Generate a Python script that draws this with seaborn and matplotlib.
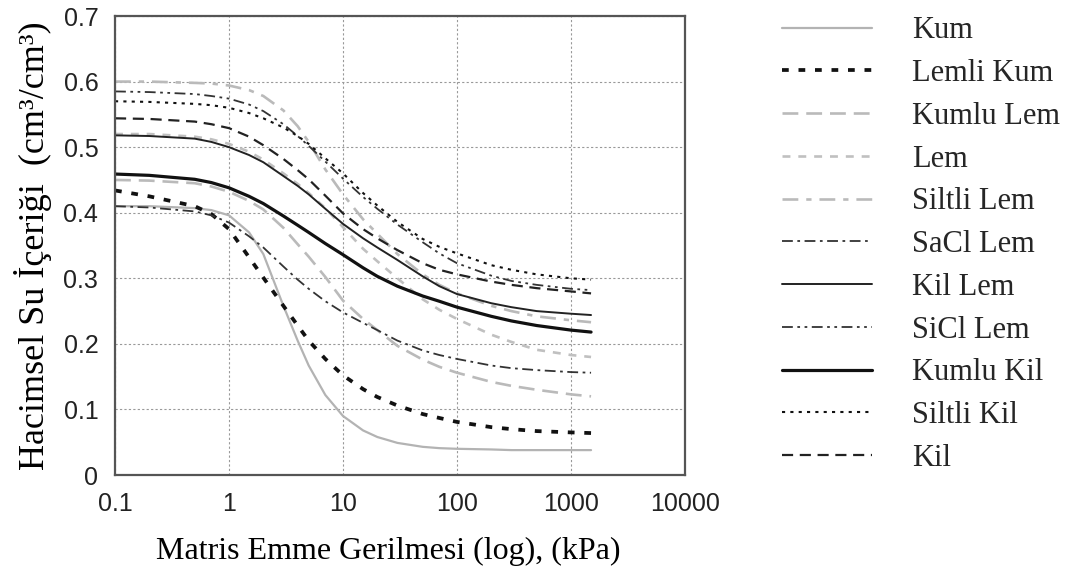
import matplotlib
matplotlib.use("Agg")
import matplotlib.pyplot as plt
import seaborn as sns
import pandas as pd

# suction values (kPa), shared by every curve
suction = [0.1, 0.2, 0.5, 0.7, 1, 1.5, 2, 3, 4, 5, 7, 10, 15, 20, 30, 50, 70, 100, 200, 300, 500, 1000, 1500]

kum = [0.41, 0.41, 0.407, 0.404, 0.396, 0.37, 0.337, 0.258, 0.205, 0.167, 0.122, 0.09, 0.068, 0.058, 0.049, 0.043, 0.041, 0.040, 0.039, 0.038, 0.038, 0.038, 0.038]
lemli_kum = [0.434, 0.425, 0.41, 0.398, 0.375, 0.332, 0.301, 0.258, 0.228, 0.205, 0.177, 0.152, 0.131, 0.119, 0.106, 0.093, 0.087, 0.081, 0.073, 0.07, 0.067, 0.065, 0.064]
kumlu_lem = [0.45, 0.449, 0.445, 0.44, 0.432, 0.418, 0.405, 0.377, 0.352, 0.333, 0.302, 0.266, 0.238, 0.221, 0.197, 0.176, 0.165, 0.156, 0.142, 0.136, 0.13, 0.123, 0.12]
lem = [0.52, 0.52, 0.516, 0.512, 0.505, 0.493, 0.481, 0.46, 0.444, 0.43, 0.407, 0.378, 0.345, 0.326, 0.30, 0.268, 0.252, 0.238, 0.214, 0.203, 0.191, 0.183, 0.18]
siltli_lem = [0.60, 0.60, 0.598, 0.597, 0.594, 0.587, 0.578, 0.556, 0.532, 0.508, 0.466, 0.428, 0.39, 0.368, 0.337, 0.306, 0.29, 0.277, 0.258, 0.25, 0.242, 0.236, 0.233]
sacl_lem = [0.41, 0.408, 0.402, 0.396, 0.385, 0.364, 0.347, 0.318, 0.298, 0.284, 0.265, 0.248, 0.232, 0.221, 0.205, 0.19, 0.183, 0.177, 0.167, 0.163, 0.16, 0.157, 0.156]
kil_lem = [0.518, 0.517, 0.513, 0.508, 0.50, 0.488, 0.477, 0.456, 0.441, 0.428, 0.406, 0.383, 0.361, 0.347, 0.328, 0.303, 0.288, 0.276, 0.262, 0.256, 0.25, 0.246, 0.244]
sicl_lem = [0.585, 0.584, 0.581, 0.578, 0.574, 0.565, 0.555, 0.535, 0.517, 0.502, 0.478, 0.452, 0.424, 0.406, 0.382, 0.355, 0.338, 0.323, 0.304, 0.296, 0.29, 0.284, 0.282]
kumlu_kil = [0.459, 0.457, 0.451, 0.446, 0.438, 0.425, 0.414, 0.395, 0.381, 0.37, 0.353, 0.336, 0.316, 0.303, 0.288, 0.273, 0.265, 0.256, 0.242, 0.235, 0.228, 0.221, 0.218]
siltli_kil = [0.57, 0.569, 0.566, 0.564, 0.56, 0.552, 0.544, 0.53, 0.517, 0.505, 0.483, 0.46, 0.43, 0.411, 0.386, 0.36, 0.348, 0.338, 0.32, 0.313, 0.306, 0.30, 0.298]
kil = [0.544, 0.543, 0.539, 0.535, 0.529, 0.516, 0.503, 0.482, 0.465, 0.451, 0.426, 0.399, 0.375, 0.361, 0.343, 0.323, 0.313, 0.306, 0.295, 0.29, 0.285, 0.28, 0.277]

soil_names = ["Kum", "Lemli Kum", "Kumlu Lem", "Lem", "Siltli Lem", "SaCl Lem",
              "Kil Lem", "SiCl Lem", "Kumlu Kil", "Siltli Kil", "Kil"]
soil_values = [kum, lemli_kum, kumlu_lem, lem, siltli_lem, sacl_lem,
               kil_lem, sicl_lem, kumlu_kil, siltli_kil, kil]

x_ticks = [0.1, 1, 10, 100, 1000, 10000]
x_ticklabels = ["0.1", "1", "10", "100", "1000", "10000"]
y_ticks = [0, 0.1, 0.2, 0.3, 0.4, 0.5, 0.6, 0.7]
y_ticklabels = ["0", "0.1", "0.2", "0.3", "0.4", "0.5", "0.6", "0.7"]

# line styles per soil: colour, width, dash pattern
styles = {
    "Kum":        ("#b3b3b3", 1.6, "-"),
    "Lemli Kum":  ("#111111", 2.7, (0, (1.8, 2.6))),
    "Kumlu Lem":  ("#bababa", 1.9, (0, (6, 3))),
    "Lem":        ("#c0c0c0", 1.9, (0, (3, 3))),
    "Siltli Lem": ("#bababa", 1.9, (0, (6, 3, 2, 3))),
    "SaCl Lem":   ("#333333", 1.3, (0, (6, 2.5, 1.5, 2.5))),
    "Kil Lem":    ("#222222", 1.4, "-"),
    "SiCl Lem":   ("#333333", 1.3, (0, (6, 2.5, 1.5, 2.5, 1.5, 2.5))),
    "Kumlu Kil":  ("#111111", 2.3, "-"),
    "Siltli Kil": ("#111111", 1.5, (0, (1.5, 2.5))),
    "Kil":        ("#222222", 1.6, (0, (5, 3))),
}

sns.set_theme(style="white")
plt.rcParams["font.family"] = ["Liberation Sans", "DejaVu Sans"]

fig = plt.figure(figsize=(10.77, 5.82), dpi=100)
ax = fig.add_axes([0.1068, 0.1838, 0.5292, 0.7887])

for name, vals in zip(soil_names, soil_values):
    df = pd.DataFrame({"suction": suction, "theta": vals})
    color, lw, ls = styles[name]
    sns.lineplot(data=df, x="suction", y="theta", ax=ax, color=color,
                 linewidth=lw, linestyle=ls, label=name)

ax.set_xscale("log")
ax.set_xlim(0.1, 10000)
ax.set_ylim(0, 0.7)
ax.set_xticks(x_ticks)
ax.set_xticklabels(x_ticklabels)
ax.set_yticks(y_ticks)
ax.set_yticklabels(y_ticklabels)
ax.minorticks_off()
ax.tick_params(axis="both", which="major", direction="out", length=6, width=1,
               color="#777777", labelsize=18, labelcolor="#222222", pad=6)
ax.grid(True, which="major", color="#999999", linestyle=(0, (2, 2)), linewidth=0.8)
for sp in ax.spines.values():
    sp.set_color("#555555")
    sp.set_linewidth(1.6)

serif = ["Liberation Serif", "DejaVu Serif"]
ax.set_xlabel("Matris Emme Gerilmesi (log), (kPa)", family=serif, fontsize=23,
              color="black", labelpad=15)
ax.xaxis.label.set_x(0.479)
ax.set_ylabel("Hacimsel Su İçeriği  (cm³/cm³)", family=serif, fontsize=26,
              color="black", labelpad=8)

leg = ax.legend(loc="upper left", bbox_to_anchor=(0.712, 0.998),
                bbox_transform=fig.transFigure, frameon=False,
                prop={"family": serif, "size": 22}, handlelength=2.95,
                handletextpad=1.3, labelspacing=0.45, borderpad=0)

fig.savefig("out.png", dpi=100, facecolor="white")
